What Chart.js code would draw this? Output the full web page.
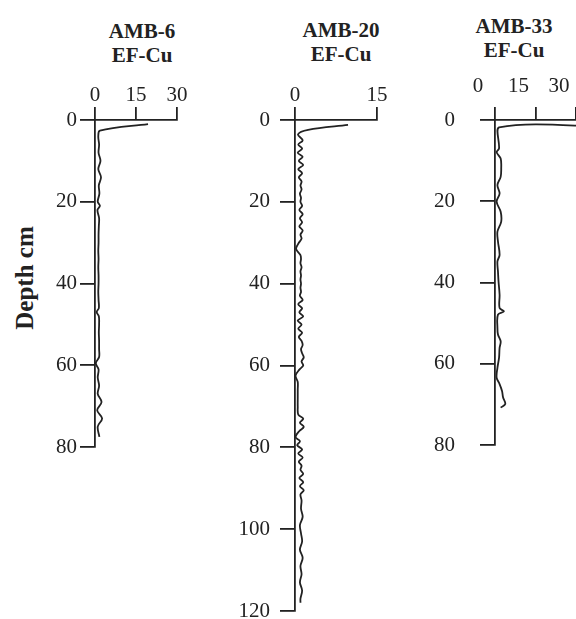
<!DOCTYPE html>
<html>
<head>
<meta charset="utf-8">
<script src="https://cdn.jsdelivr.net/npm/chart.js@4.4.1/dist/chart.umd.min.js"></script>
<style>
html,body{margin:0;padding:0;width:576px;height:619px;overflow:hidden;background:#fff;}
.panel{position:absolute;}
.ttl{position:absolute;font-family:"Liberation Serif",serif;font-weight:bold;font-size:21px;line-height:24px;color:#222;text-align:center;transform:translateX(-50%);white-space:nowrap;}
#ylab{position:absolute;left:25px;top:278px;font-family:"Liberation Serif",serif;font-weight:bold;font-size:25px;color:#222;white-space:nowrap;transform:translate(-50%,-50%) rotate(-90deg);}
</style>
</head>
<body>
<div class="ttl" style="left:142px;top:19px;">AMB-6<br>EF-Cu</div>
<div class="ttl" style="left:341px;top:18px;">AMB-20<br>EF-Cu</div>
<div class="ttl" style="left:514px;top:14px;">AMB-33<br>EF-Cu</div>
<div id="ylab">Depth cm</div>
<div class="panel" style="left:0px;top:60px;width:200px;height:410px;"><canvas id="c1" width="200" height="410"></canvas></div>
<div class="panel" style="left:200px;top:60px;width:200px;height:576px;"><canvas id="c2" width="200" height="576"></canvas></div>
<div class="panel" style="left:400px;top:60px;width:200px;height:425px;"><canvas id="c3" width="200" height="425"></canvas></div>
<script>
// ---- data ----
const depth6 = [1, 2.6, 4, 6, 8, 10, 12, 14, 16, 18, 20, 21, 22, 24, 26, 28, 30, 32, 34, 36, 38, 40, 42, 44, 46, 47, 48, 50, 52, 54, 56, 58, 59.5, 61, 63, 65, 67, 69, 71, 73, 75, 77.5];
const ef6 = [19.4, 1.8, 1.2, 1.5, 1.3, 2.0, 1.2, 2.2, 1.4, 1.6, 1.0, 1.8, 0.9, 1.5, 1.4, 1.3, 1.3, 1.2, 1.3, 1.2, 1.3, 1.3, 1.2, 1.3, 1.4, 0.6, 1.4, 1.5, 1.4, 1.5, 1.5, 1.5, 0.3, 1.3, 1.0, 1.5, 1.0, 2.4, 0.8, 2.6, 1.0, 1.6];

const depth20 = [1.2, 2.4, 3.5, 5, 6, 7, 8, 9, 10, 11, 12, 13, 14, 15, 16, 17, 18, 19, 20, 21, 22, 23, 24, 25, 26, 27, 28, 29, 30, 31.5, 33, 34, 35, 36, 37, 38, 39, 40, 41, 42, 43, 44, 45, 46, 47, 48, 49, 50, 51, 52, 53, 54, 55, 56, 57, 58, 59, 60, 61, 62.5, 64, 66, 68, 70, 72, 73, 74, 75, 76, 77.5, 78.5, 79.5, 80.5, 81.5, 82.5, 83.5, 84.5, 85.5, 86.5, 87.5, 88.5, 89.5, 90.5, 91.5, 93, 95, 97, 99, 101, 103, 105, 107, 109, 111, 113, 115, 117, 118];
const ef20 = [9.7, 2.4, 0.55, 1.4, 0.6, 1.3, 0.5, 1.4, 0.7, 1.5, 0.6, 1.3, 0.7, 1.2, 1.0, 1.2, 0.9, 1.1, 1.0, 1.3, 0.8, 1.4, 0.9, 1.3, 0.8, 1.4, 1.0, 1.2, 0.7, 0.2, 1.0, 1.1, 1.0, 1.2, 1.0, 1.1, 1.0, 1.1, 1.0, 1.1, 0.9, 1.4, 0.6, 1.3, 0.8, 1.5, 0.5, 1.2, 0.6, 1.3, 0.7, 1.2, 1.4, 1.1, 1.3, 1.6, 1.2, 1.5, 0.8, 0.1, 0.5, 0.5, 0.5, 0.5, 0.6, 1.5, 0.9, 1.6, 0.8, 0.1, 0.9, 0.4, 1.3, 0.6, 1.4, 0.7, 1.2, 1.0, 1.5, 0.8, 1.5, 0.9, 1.6, 1.0, 1.2, 1.1, 1.4, 0.9, 1.1, 1.3, 0.9, 1.4, 1.0, 1.2, 0.9, 1.3, 1.0, 1.0];

const depth33 = [1.7, 1.8, 7, 7.9, 9.5, 12, 14, 16, 18.1, 20.1, 22.6, 25, 27.5, 29.9, 33.2, 34.8, 37.3, 39.7, 43, 46.3, 47.1, 47.9, 51.2, 52.8, 54.5, 56.1, 58.5, 61, 63.4, 65, 66.7, 68.3, 69.9, 70.8];
const ef33 = [45, 1.5, 1.5, 0.6, 2.1, 2.3, 2.1, 0.9, 1.7, 0.6, 2.1, 2.3, 0.9, 1.1, 1.7, 0.9, 1.1, 1.3, 1.7, 1.7, 3.3, 1.1, 0.9, 1.1, 2.1, 1.7, 1.5, 0.9, 0.6, 1.7, 2.6, 3.0, 3.8, 2.1];

const xTicks6 = [0, 15, 30];
const xTicks20 = [0, 15];
const xTicks33 = [0, 15, 30];

// ---- chart builder ----
const INK = '#222';
const FONT = {family: '"Liberation Serif", "Times New Roman", serif', size: 21};
function pts(d, v){ return d.map((y,i)=>({x:v[i], y:y})); }

function makePanel(id, depths, vals, xMax, yMax, cfg){
  return new Chart(document.getElementById(id), {
    type: 'scatter',
    data: {datasets: [{
      data: pts(depths, vals),
      showLine: true,
      borderColor: INK,
      borderWidth: 1.8,
      pointRadius: 0,
      pointHoverRadius: 0,
      tension: 0.35,
      fill: false
    }]},
    options: {
      responsive: false,
      animation: false,
      devicePixelRatio: 1,
      events: [],
      layout: {padding: {left: 0, right: cfg.padRight, top: 0, bottom: cfg.padBottom}},
      plugins: {legend: {display: false}, tooltip: {enabled: false}, title: {display: false}},
      scales: {
        x: {
          type: 'linear', position: 'top', min: 0, max: xMax,
          afterFit: s => { s.height = 60; },
          afterBuildTicks: s => { s.ticks = cfg.xticks.map(v => ({value: v})); },
          ticks: {color: INK, font: FONT, padding: cfg.xPad, labelOffset: cfg.xOffset, maxRotation: 0, autoSkip: false},
          grid: {drawOnChartArea: false, drawTicks: true, tickLength: 13, color: INK, lineWidth: 1.8},
          border: {display: true, color: INK, width: 1.8}
        },
        y: {
          type: 'linear', position: 'left', reverse: true, min: 0, max: yMax,
          afterFit: s => { s.width = 95; },
          ticks: {stepSize: 20, color: INK, font: FONT, padding: cfg.yPad, autoSkip: false},
          grid: {drawOnChartArea: false, drawTicks: true, tickLength: 15, color: INK, lineWidth: 1.8},
          border: {display: true, color: INK, width: 1.8}
        }
      }
    }
  });
}

makePanel('c1', depth6, ef6, 30, 80, {padRight: 23, padBottom: 23, xPad: -1, xOffset: 0, yPad: 3, xticks: xTicks6});
makePanel('c2', depth20, ef20, 15, 120, {padRight: 23, padBottom: 25, xPad: -1, xOffset: 0, yPad: 10, xticks: xTicks20});
makePanel('c3', depth33, ef33, 30, 80, {padRight: 24, padBottom: 40, xPad: 8, xOffset: -17, yPad: 25, xticks: xTicks33});
</script>
</body>
</html>
